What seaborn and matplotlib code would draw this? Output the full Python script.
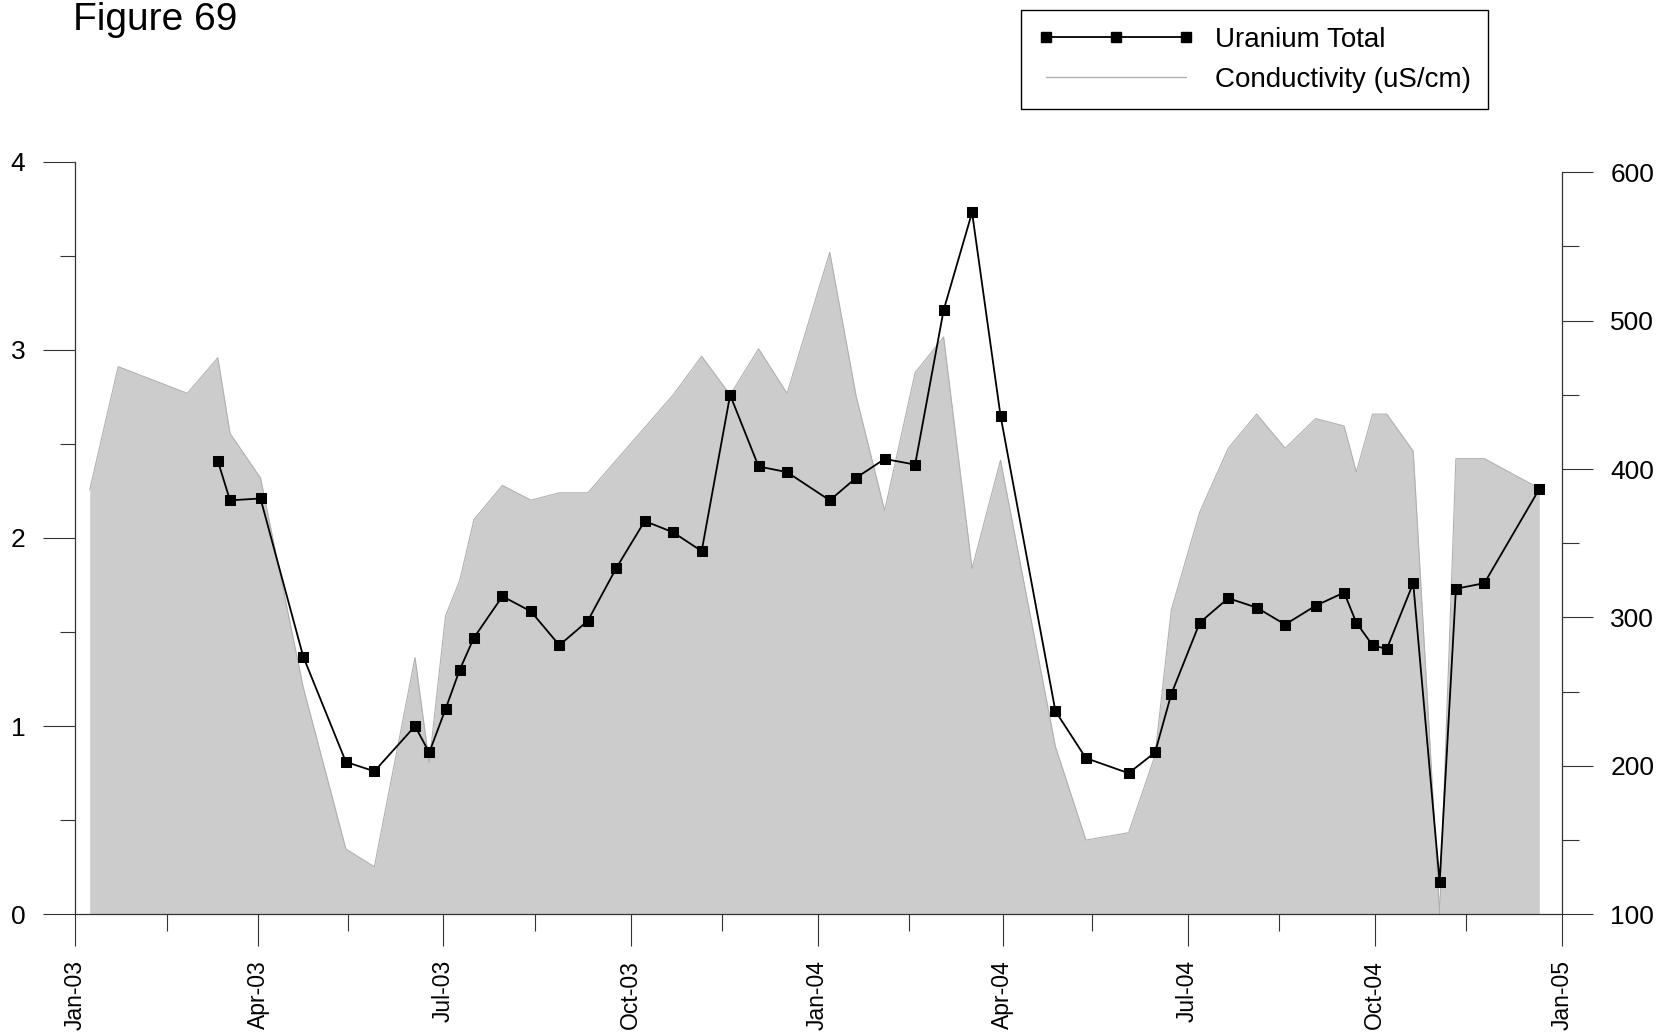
import numpy as np
import pandas as pd
import matplotlib
matplotlib.use('Agg')
import matplotlib.pyplot as plt
import matplotlib.dates as mdates
from matplotlib.lines import Line2D
import seaborn as sns

# sampling dates (conductivity has a few extra early readings, uranium has gaps)
sample_dates = [
    '2003-01-08', '2003-01-22', '2003-02-25', '2003-03-12', '2003-03-18',
    '2003-04-02', '2003-04-23', '2003-05-14', '2003-05-28', '2003-06-17',
    '2003-06-24', '2003-07-02', '2003-07-09', '2003-07-16', '2003-07-30',
    '2003-08-13', '2003-08-27', '2003-09-10', '2003-09-24', '2003-10-08',
    '2003-10-22', '2003-11-05', '2003-11-19', '2003-12-03', '2003-12-17',
    '2004-01-07', '2004-01-20', '2004-02-03', '2004-02-18', '2004-03-03',
    '2004-03-17', '2004-03-31', '2004-04-27', '2004-05-12', '2004-06-02',
    '2004-06-15', '2004-06-23', '2004-07-07', '2004-07-21', '2004-08-04',
    '2004-08-18', '2004-09-02', '2004-09-16', '2004-09-22', '2004-09-30',
    '2004-10-07', '2004-10-20', '2004-11-02', '2004-11-10', '2004-11-24',
    '2004-12-21',
]

uranium_total = [
    np.nan, np.nan, np.nan, 2.41, 2.20,
    2.21, 1.37, 0.81, 0.76, 1.00,
    0.86, 1.09, 1.30, 1.47, 1.69,
    1.61, 1.43, 1.56, 1.84, 2.09,
    2.03, 1.93, 2.76, 2.38, 2.35,
    2.20, 2.32, 2.42, 2.39, 3.21,
    3.73, 2.65, 1.08, 0.83, 0.75,
    0.86, 1.17, 1.55, 1.68, 1.63,
    1.54, 1.64, 1.71, 1.55, 1.43,
    1.41, 1.76, 0.17, 1.73, 1.76,
    2.26,
]

conductivity = [
    386, 469, 451, 475, 424,
    394, 253, 144, 132, 273,
    202, 301, 325, 366, 389,
    379, 384, 384, np.nan, np.nan,
    450, 476, 450, 481, 451,
    546, 449, 372, 465, 489,
    333, 406, 213, 150, 155,
    207, 305, 371, 414, 437,
    414, 434, 429, 398, 437,
    437, 412, 100, 407, 407,
    387,
]

df = pd.DataFrame({
    'date': pd.to_datetime(sample_dates),
    'uranium': uranium_total,
    'cond': conductivity,
})
u_df = df.dropna(subset=['uranium'])
c_df = df.dropna(subset=['cond'])

sns.set_style('ticks')
plt.rcParams['font.family'] = ['Liberation Sans', 'DejaVu Sans']
plt.rcParams['font.size'] = 19
plt.rcParams['text.color'] = 'black'

axis_col = '#333333'
fill_col = '#cccccc'
edge_col = '#b0b0b0'

fig = plt.figure(figsize=(16.67, 10.34), dpi=100)
ax = fig.add_axes([0.04529, 0.11576, 0.8915, 0.7279])
ax2 = ax.twinx()

# conductivity as grey area on the right axis
ax2.fill_between(c_df['date'], 100, c_df['cond'], color=fill_col, linewidth=0, zorder=1)
sns.lineplot(data=c_df, x='date', y='cond', ax=ax2, color=edge_col, linewidth=0.8,
             legend=False, zorder=2)

# uranium as black line with squares on the left axis
sns.lineplot(data=u_df, x='date', y='uranium', ax=ax, color='black', linewidth=1.3,
             marker='s', markersize=6.5, markeredgecolor='black', legend=False)

ax.set_zorder(ax2.get_zorder() + 1)
ax.patch.set_visible(False)

ax.set_xlim(pd.Timestamp('2003-01-01'), pd.Timestamp('2005-01-01'))
ax.set_ylim(0, 4)
ax2.set_ylim(100, 607.1)

ax.xaxis.set_major_locator(mdates.MonthLocator(bymonth=[1, 4, 7, 10]))
ax.xaxis.set_minor_locator(mdates.MonthLocator(bymonth=[2, 5, 8, 11], bymonthday=15))
ax.xaxis.set_major_formatter(mdates.DateFormatter('%b-%y'))
ax.set_yticks([0, 1, 2, 3, 4])
ax.set_yticks(np.arange(0.5, 4, 1.0), minor=True)
ax2.set_yticks([100, 200, 300, 400, 500, 600])
ax2.set_yticks([150, 250, 350, 450, 550], minor=True)

ax.set_xlabel('')
ax.set_ylabel('')
ax2.set_xlabel('')
ax2.set_ylabel('')

for a in (ax, ax2):
    for s in a.spines.values():
        s.set_color(axis_col)
        s.set_linewidth(0.9)
    a.spines['top'].set_visible(False)

ax.spines['right'].set_visible(False)
ax.spines['left'].set_bounds(0, 4)
ax2.spines['left'].set_visible(False)
ax2.spines['bottom'].set_visible(False)
ax2.spines['right'].set_bounds(100, 600)

ax.tick_params(axis='x', which='major', direction='out', length=23, width=0.8,
               color=axis_col, labelcolor='black', pad=10, labelsize=16.5, labelrotation=90)
ax.tick_params(axis='x', which='minor', direction='out', length=12, width=0.8, color=axis_col)
ax.tick_params(axis='y', which='major', direction='out', length=23, width=0.8,
               color=axis_col, labelcolor='black', pad=13, labelsize=19)
ax.tick_params(axis='y', which='minor', direction='out', length=11, width=0.8, color=axis_col)
ax2.tick_params(axis='y', which='major', direction='out', length=22, width=0.8,
                color=axis_col, labelcolor='black', pad=13, labelsize=19)
ax2.tick_params(axis='y', which='minor', direction='out', length=12, width=0.8, color=axis_col)
for lab in ax.get_xticklabels():
    lab.set_va('top')
    lab.set_ha('center')

fig.text(0.0436, 0.971, 'Figure 69', fontsize=28, ha='left', va='baseline', color='black')

handles = [
    Line2D([], [], color='black', linewidth=1.3, marker='s', markersize=6.5),
    Line2D([], [], color=edge_col, linewidth=1.0),
]
leg = fig.legend(handles, ['Uranium Total', 'Conductivity (uS/cm)'],
                 loc='upper left', bbox_to_anchor=(1021 / 1667, 1 - 10 / 1034),
                 bbox_transform=fig.transFigure, frameon=True, fancybox=False,
                 edgecolor='black', framealpha=1, fontsize=20, numpoints=3,
                 handlelength=5.65, handletextpad=0.75, borderpad=0.6,
                 labelspacing=0.5, borderaxespad=0)
leg.get_frame().set_linewidth(1.0)
for t in leg.get_texts():
    t.set_color('black')

fig.savefig('out.png', dpi=100)
